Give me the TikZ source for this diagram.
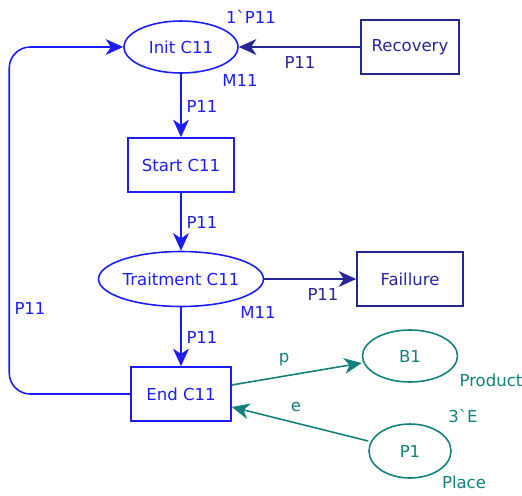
\documentclass[tikz,border=0pt]{standalone}
\usepackage{fontspec}
\setmainfont{DejaVu Sans}
\usepackage{tikz}
\usetikzlibrary{shapes,arrows.meta}

\definecolor{cpnblue}{RGB}{28,28,250}
\definecolor{cpnnavy}{RGB}{38,38,150}
\definecolor{cpnteal}{RGB}{18,128,124}

\begin{document}
\begin{tikzpicture}[x=0.02cm,y=-0.02cm,
    font=\fontsize{9.4}{11}\selectfont,
    place/.style={ellipse,draw,line width=0.9pt,inner sep=0pt},
    trans/.style={rectangle,draw,line width=0.9pt,inner sep=0pt,minimum height=1.08cm},
    arc/.style={line width=0.9pt,-{Stealth[length=10pt,width=9pt,inset=3pt]}},
    lbl/.style={inner sep=1pt}]
      \useasboundingbox (0,0) rectangle (522,495);
      % places
      \node[place,cpnblue,minimum width=2.28cm,minimum height=1.04cm] (init) at (181,47) {Init C11};
      \node[place,cpnblue,minimum width=3.22cm,minimum height=1.1cm] (trait) at (181,279) {Traitment C11};
      \node[place,cpnteal,minimum width=1.9cm,minimum height=1.04cm] (b1) at (410,356) {B1};
      \node[place,cpnteal,minimum width=1.64cm,minimum height=1.08cm] (p1) at (410,451) {P1};
      % transitions
      \node[trans,cpnnavy,minimum width=1.96cm] (recov) at (410,47) {Recovery};
      \node[trans,cpnblue,minimum width=2.12cm] (start) at (181,165) {Start C11};
      \node[trans,cpnnavy,minimum width=2.12cm] (fail) at (410,279) {Faillure};
      \node[trans,cpnblue,minimum width=2cm] (endc) at (181,394) {End C11};
      % arcs
      \draw[arc,cpnnavy] (recov) -- (init);
      \draw[arc,cpnblue] (init) -- (start);
      \draw[arc,cpnblue] (start) -- (trait);
      \draw[arc,cpnnavy] (trait) -- (fail);
      \draw[arc,cpnblue] (trait) -- (endc);
      \draw[arc,cpnblue,rounded corners=12pt] (endc.west) -- ++(-121,0) |- (init.west);
      \draw[arc,cpnteal] (endc.east |- 0,385) -- (b1.west |- 0,363);
      \draw[arc,cpnteal] (p1.west |- 0,441) -- (endc.east |- 0,407);
      % inscriptions
      \node[lbl,cpnblue] (initmark) at (251,17) {1\textasciigrave P11};
      \node[lbl,cpnblue] (initcol) at (240,80) {M11};
      \node[lbl,cpnnavy] (recarc) at (300,62) {P11};
      \node[lbl,cpnblue] (startin) at (202,106) {P11};
      \node[lbl,cpnblue] (startout) at (202,222) {P11};
      \node[lbl,cpnblue] (traitcol) at (258,312) {M11};
      \node[lbl,cpnnavy] (failarc) at (323,294) {P11};
      \node[lbl,cpnblue] (endin) at (202,337) {P11};
      \node[lbl,cpnblue] (loop) at (30,308) {P11};
      \node[lbl,cpnteal] (parc) at (284,360) {p};
      \node[lbl,cpnteal] (earc) at (296,407) {e};
      \node[lbl,cpnteal] (b1col) at (491,380) {Product};
      \node[lbl,cpnteal] (p1mark) at (463,416) {3\textasciigrave E};
      \node[lbl,cpnteal] (p1col) at (464,482) {Place};
\end{tikzpicture}
\end{document}
